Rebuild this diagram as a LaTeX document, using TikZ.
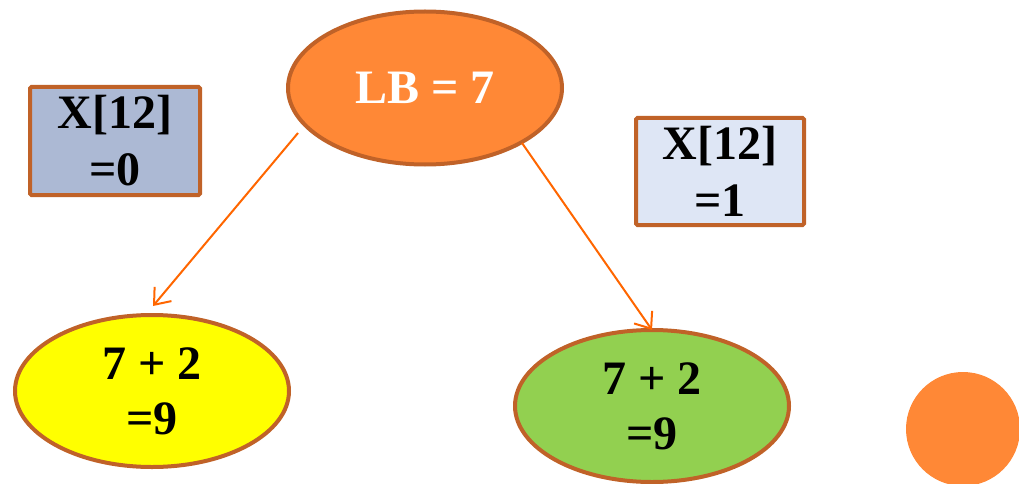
\documentclass[tikz,border=0pt]{standalone}
\usepackage{fontspec}
\setmainfont{Liberation Serif}
\usetikzlibrary{shapes.geometric,arrows.meta}
\definecolor{borderbrown}{RGB}{192,98,40}
\definecolor{orangefill}{RGB}{255,136,54}
\definecolor{arrowor}{RGB}{255,102,0}
\definecolor{boxblue}{RGB}{172,185,212}
\definecolor{boxlight}{RGB}{222,230,245}
\definecolor{greenfill}{RGB}{146,208,80}
\definecolor{yellowfill}{RGB}{255,255,0}
\begin{document}
\begin{tikzpicture}[x=1pt,y=-1pt,
  oval/.style={ellipse,draw=borderbrown,line width=4pt,minimum width=274pt,minimum height=152pt,inner sep=0pt,align=center,font=\bfseries\fontsize{48}{55}\selectfont},
  valbox/.style={rectangle,draw=borderbrown,line width=4pt,rounded corners=1.5pt,inner sep=0pt,align=center,font=\bfseries\fontsize{48}{57}\selectfont},
  conn/.style={draw=arrowor,line width=2pt,-{Straight Barb[length=14pt,width=22pt,line width=2pt]}}]
\useasboundingbox (0,0) rectangle (1019,484);
\node[oval,fill=orangefill,text=white,minimum height=153pt] (root) at (425,88) {LB = 7};
\node[valbox,fill=boxblue,minimum width=170pt,minimum height=108pt] (b0) at (115,141) {X[12]\\=0};
\node[valbox,fill=boxlight,minimum width=168pt,minimum height=107pt] (b1) at (720,171.5) {X[12]\\=1};
\node[oval,fill=yellowfill] (left) at (152,391) {7 + 2\\=9};
\node[oval,fill=greenfill] (right) at (652,406) {7 + 2\\=9};
\node[circle,fill=orangefill,minimum size=114pt,inner sep=0pt] (dot) at (963,429) {};
\coordinate (ls) at (298,133);
\coordinate (le) at (153,306);
\coordinate (rs) at (522,143);
\coordinate (re) at (652,330);
\draw[conn] (ls) -- (le);
\draw[conn] (rs) -- (re);
\end{tikzpicture}
\end{document}
